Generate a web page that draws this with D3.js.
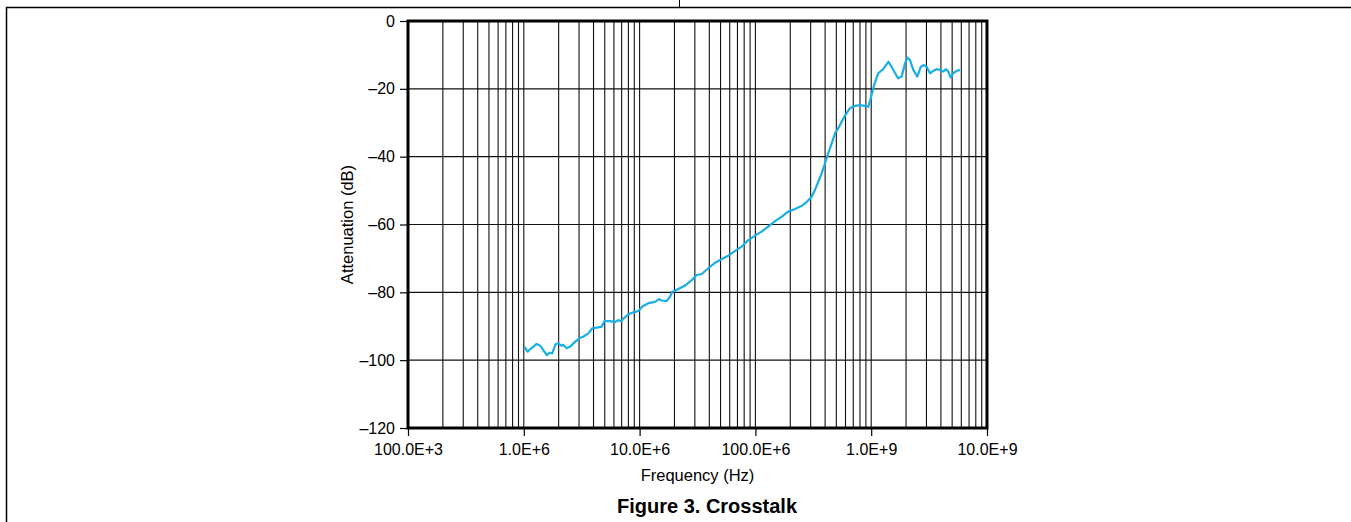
<!DOCTYPE html>
<html>
<head>
<meta charset="utf-8">
<script src="https://cdn.jsdelivr.net/npm/d3@7"></script>
<style>
  body { margin: 0; background: #fff; }
  text { font-family: "Liberation Sans", Arial, sans-serif; }
</style>
</head>
<body>
<div id="chart"></div>
<script>
// Crosstalk curve (Hz, dB)
var freqHz = [1.01e6, 1.08e6, 1.13e6, 1.21e6, 1.29e6, 1.35e6, 1.41e6, 1.47e6, 1.58e6, 1.68e6,
  1.76e6, 1.88e6, 1.99e6, 2.10e6, 2.19e6, 2.35e6, 2.51e6, 2.77e6, 3.06e6, 3.26e6,
  3.61e6, 3.91e6, 4.26e6, 4.71e6, 4.96e6, 5.55e6, 6.13e6, 6.55e6, 6.91e6, 7.38e6,
  7.99e6, 8.83e6, 9.75e6, 1.055e7, 1.19e7, 1.36e7, 1.47e7, 1.55e7, 1.71e7, 1.83e7,
  1.92e7, 2.16e7, 2.47e7, 2.82e7, 3.11e7, 3.44e7, 3.92e7, 4.48e7, 5.12e7, 5.83e7,
  6.67e7, 7.62e7, 8.69e7, 9.93e7, 1.13e8, 1.29e8, 1.48e8, 1.69e8, 1.92e8, 2.20e8,
  2.51e8, 2.77e8, 3.06e8, 3.27e8, 3.49e8, 3.73e8, 3.99e8, 4.26e8, 4.56e8, 4.87e8,
  5.20e8, 5.56e8, 5.94e8, 6.56e8, 7.24e8, 8.00e8, 8.83e8, 9.44e8, 9.90e8, 1.06e9,
  1.15e9, 1.27e9, 1.41e9, 1.50e9, 1.61e9, 1.71e9, 1.83e9, 1.96e9, 2.05e9, 2.16e9,
  2.31e9, 2.50e9, 2.68e9, 2.86e9, 3.01e9, 3.22e9, 3.44e9, 3.68e9, 3.93e9, 4.20e9,
  4.43e9, 4.63e9, 4.86e9, 5.12e9, 5.47e9, 5.84e9];
var attenDb = [-96.0, -97.5, -96.8, -96.0, -95.2, -95.5, -96.0, -97.0, -98.5, -97.8,
  -98.0, -95.3, -95.0, -95.7, -95.5, -96.5, -96.0, -94.6, -93.4, -93.1,
  -92.1, -90.6, -90.4, -90.1, -88.5, -88.5, -88.8, -88.2, -88.5, -87.5,
  -86.5, -85.9, -85.5, -84.2, -83.2, -82.8, -82.0, -82.4, -82.6, -81.3,
  -79.8, -79.0, -78.0, -76.4, -74.9, -74.6, -72.9, -71.3, -70.2, -69.2,
  -67.8, -66.5, -64.6, -63.3, -62.1, -60.6, -59.0, -57.7, -56.2, -55.4,
  -54.5, -53.4, -51.8, -49.8, -47.4, -44.9, -42.0, -39.0, -36.1, -33.1,
  -31.6, -29.7, -27.9, -25.7, -25.0, -24.8, -25.0, -25.3, -22.8, -18.9,
  -15.4, -14.2, -12.0, -13.5, -15.4, -16.9, -16.4, -12.5, -10.8, -11.5,
  -14.4, -16.4, -13.5, -13.0, -13.5, -15.4, -14.7, -14.2, -14.4, -14.9,
  -14.2, -14.9, -16.7, -15.4, -14.7, -14.4];

var xTicks = [1e5, 1e6, 1e7, 1e8, 1e9, 1e10];
var xTickLabels = ["100.0E+3", "1.0E+6", "10.0E+6", "100.0E+6", "1.0E+9", "10.0E+9"];
var yTicks = [0, -20, -40, -60, -80, -100, -120];
var yTickLabels = ["0", "\u201320", "\u201340", "\u201360", "\u201380", "\u2013100", "\u2013120"];

var W = 1351, H = 522;
var margin = {top: 21, left: 408, right: 364, bottom: 94},
    width = W - margin.left - margin.right,
    height = H - margin.top - margin.bottom;

var root = d3.select("#chart").append("svg")
  .attr("width", W)
  .attr("height", H);

// page frame lines
root.append("line").attr("x1", 6).attr("x2", W).attr("y1", 7.5).attr("y2", 7.5)
  .attr("stroke", "#000").attr("stroke-width", 1.5);
root.append("line").attr("x1", 6.5).attr("x2", 6.5).attr("y1", 7).attr("y2", H)
  .attr("stroke", "#000").attr("stroke-width", 1.5);
root.append("line").attr("x1", 679.5).attr("x2", 679.5).attr("y1", 0).attr("y2", 7)
  .attr("stroke", "#000").attr("stroke-width", 1);

var svg = root.append("g")
  .attr("transform", "translate(" + margin.left + "," + margin.top + ")");

var x = d3.scaleLog().domain([1e5, 1e10]).range([0, width]);
var y = d3.scaleLinear().domain([-120, 0]).range([height, 0]);

// grid: every 1..9 in each decade
var minor = [];
for (var e = 5; e < 10; e++) {
  for (var m = 2; m <= 9; m++) minor.push(m * Math.pow(10, e));
}
minor = minor.concat(xTicks.slice(1, -1));

svg.selectAll(".vgrid")
  .data(minor)
  .enter().append("line")
  .attr("x1", function(d) { return x(d); })
  .attr("x2", function(d) { return x(d); })
  .attr("y1", 0).attr("y2", height)
  .attr("stroke", "#111").attr("stroke-width", 1.1);

svg.selectAll(".hgrid")
  .data(yTicks.slice(1, -1))
  .enter().append("line")
  .attr("x1", 0).attr("x2", width)
  .attr("y1", function(d) { return y(d); })
  .attr("y2", function(d) { return y(d); })
  .attr("stroke", "#111").attr("stroke-width", 1.1);

// axes
var xAxis = svg.append("g")
  .attr("transform", "translate(0," + height + ")")
  .call(d3.axisBottom(x).tickValues(xTicks).tickSizeInner(8).tickSizeOuter(0).tickPadding(8)
    .tickFormat(function(d, i) { return xTickLabels[i]; }));
var yAxis = svg.append("g")
  .call(d3.axisLeft(y).tickValues(yTicks).tickSizeInner(8).tickSizeOuter(0).tickPadding(5)
    .tickFormat(function(d, i) { return yTickLabels[i]; }));

[xAxis, yAxis].forEach(function(a) {
  a.select(".domain").remove();
  a.selectAll("line").attr("stroke", "#000").attr("stroke-width", 1.2);
  a.selectAll("text").attr("fill", "#000")
    .style("font-size", "16px")
    .style("font-family", "'Liberation Sans', Arial, sans-serif");
});

// plot frame
svg.append("rect")
  .attr("x", 0).attr("y", 0)
  .attr("width", width).attr("height", height)
  .attr("fill", "none").attr("stroke", "#000").attr("stroke-width", 3);

// curve
var pts = freqHz.map(function(f, i) { return [f, attenDb[i]]; });
svg.append("path")
  .datum(pts)
  .attr("fill", "none")
  .attr("stroke", "#1aaee6")
  .attr("stroke-width", 2.2)
  .attr("stroke-linejoin", "round")
  .attr("d", d3.line()
    .x(function(d) { return x(d[0]); })
    .y(function(d) { return y(d[1]); }));

// titles
svg.append("text")
  .attr("x", width / 2).attr("y", height + 53)
  .attr("text-anchor", "middle")
  .style("font-size", "16.5px")
  .text("Frequency (Hz)");

svg.append("text")
  .attr("transform", "translate(-55," + (height / 2) + ")rotate(-90)")
  .attr("text-anchor", "middle")
  .style("font-size", "16.5px")
  .text("Attenuation (dB)");

root.append("text")
  .attr("x", 707).attr("y", 513)
  .attr("text-anchor", "middle")
  .style("font-size", "20px")
  .style("font-weight", "bold")
  .text("Figure 3. Crosstalk");
</script>
</body>
</html>
